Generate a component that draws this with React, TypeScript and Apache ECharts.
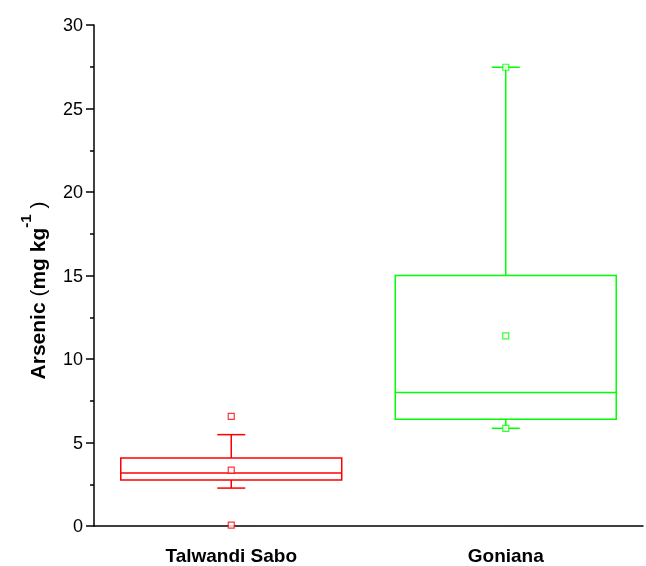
import React, { useEffect, useRef } from "react";
import * as echarts from "echarts";

const categories = ["Talwandi Sabo", "Goniana"];
// [whiskerLow, Q1, median, Q3, whiskerHigh]
const boxValues = [
  [2.27, 2.75, 3.17, 4.07, 5.47],
  [5.85, 6.39, 8.0, 15.0, 27.47],
];
const meanValues = [3.35, 11.38];
const extraPoints = [
  [[0, 6.57], [0, 0.05]],
  [[1, 27.47], [1, 5.85]],
];
const colors = ["#ff0000", "#00ff00"];
const yTicks = { min: 0, max: 30, interval: 5 };

const FONT = "Liberation Sans, Arial, sans-serif";

export default function App() {
  const ref = useRef<HTMLDivElement>(null);
  useEffect(() => {
    if (!ref.current) return;
    const chart = echarts.init(ref.current, null, { renderer: "svg" });
    const boxData = boxValues.map((b, i) => [i, ...b]);
    const pointData: any[] = [];
    meanValues.forEach((m, i) => {
      pointData.push({ value: [i, m], itemStyle: { borderColor: colors[i] } });
    });
    extraPoints.forEach((pts, i) =>
      pts.forEach((p) =>
        pointData.push({ value: p, itemStyle: { borderColor: colors[i] } })
      )
    );
    chart.setOption({
      animation: false,
      grid: { left: 94, right: 3, top: 25, bottom: 40 },
      xAxis: {
        type: "category",
        data: categories,
        boundaryGap: true,
        axisLine: { lineStyle: { color: "#000", width: 1.5 } },
        axisTick: { alignWithLabel: true, length: 9, lineStyle: { color: "#000", width: 1.5 } },
        axisLabel: {
          color: "#000",
          fontSize: 19,
          fontWeight: "bold",
          fontFamily: FONT,
          margin: 20,
        },
        splitLine: { show: false },
      },
      yAxis: {
        type: "value",
        min: yTicks.min,
        max: yTicks.max,
        interval: yTicks.interval,
        axisLine: { show: true, lineStyle: { color: "#000", width: 1.5 } },
        axisTick: { show: true, length: 8, lineStyle: { color: "#000", width: 1.5 } },
        minorTick: { show: true, splitNumber: 2, length: 4, lineStyle: { color: "#000", width: 1.5 } },
        splitLine: { show: false },
        axisLabel: {
          color: "#000",
          fontSize: 18,
          fontFamily: FONT,
          margin: 11,
        },
        name: "{b|Arsenic }{n|(}{b|mg kg}{s|-1}{n| )}",
        nameLocation: "middle",
        nameRotate: 90,
        nameGap: 46,
        nameTextStyle: {
          padding: [0, 30, 0, 0],
          rich: {
            b: { fontSize: 21, fontWeight: "bold", color: "#000", fontFamily: FONT, lineHeight: 30, verticalAlign: "bottom" },
            n: { fontSize: 21, color: "#000", fontFamily: FONT, lineHeight: 30, verticalAlign: "bottom" },
            s: { fontSize: 15, fontWeight: "bold", color: "#000", fontFamily: FONT, lineHeight: 30, verticalAlign: "top" },
          },
        },
      },
      series: [
        {
          type: "custom",
          data: boxData,
          encode: { x: 0, y: [1, 2, 3, 4, 5] },
          renderItem: (params: any, api: any) => {
            const i = api.value(0);
            const c = colors[i];
            const band = api.size([1, 0])[0];
            const bw = band * 0.805;
            const cap = 28;
            const pLow = api.coord([i, api.value(1)]);
            const pQ1 = api.coord([i, api.value(2)]);
            const pMed = api.coord([i, api.value(3)]);
            const pQ3 = api.coord([i, api.value(4)]);
            const pHigh = api.coord([i, api.value(5)]);
            const x = pQ1[0];
            const st = { stroke: c, lineWidth: 1.5, fill: "none" };
            return {
              type: "group",
              children: [
                { type: "rect", shape: { x: x - bw / 2, y: pQ3[1], width: bw, height: pQ1[1] - pQ3[1] }, style: st },
                { type: "line", shape: { x1: x - bw / 2, y1: pMed[1], x2: x + bw / 2, y2: pMed[1] }, style: st },
                { type: "line", shape: { x1: x, y1: pQ3[1], x2: x, y2: pHigh[1] }, style: st },
                { type: "line", shape: { x1: x, y1: pQ1[1], x2: x, y2: pLow[1] }, style: st },
                { type: "line", shape: { x1: x - cap / 2, y1: pHigh[1], x2: x + cap / 2, y2: pHigh[1] }, style: st },
                { type: "line", shape: { x1: x - cap / 2, y1: pLow[1], x2: x + cap / 2, y2: pLow[1] }, style: st },
              ],
            };
          },
          z: 2,
        },
        {
          type: "scatter",
          data: pointData,
          symbol: "rect",
          symbolSize: 6,
          itemStyle: { color: "#fff", borderWidth: 1.2 },
          z: 3,
        },
      ],
    });
    return () => chart.dispose();
  }, []);
  return (
    <div
      ref={ref}
      style={{ position: "fixed", left: 0, top: 0, width: 646, height: 566 }}
    />
  );
}
